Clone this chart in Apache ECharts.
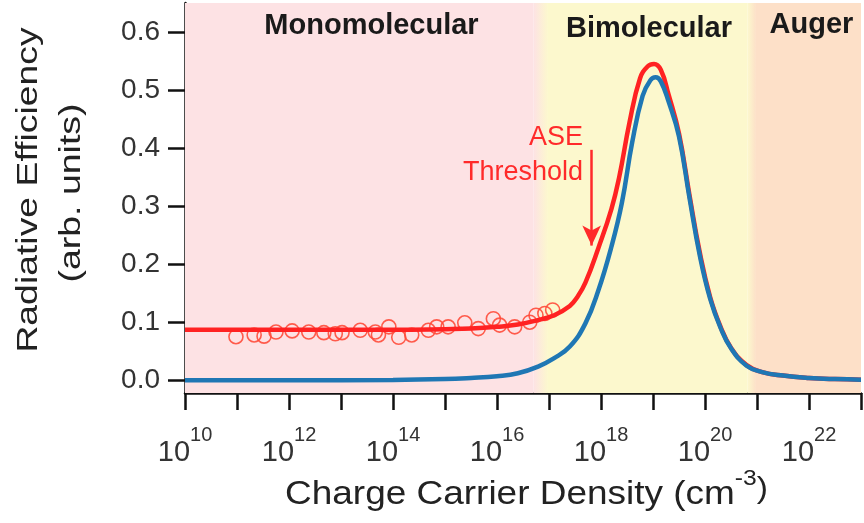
<!DOCTYPE html>
<html>
<head>
<meta charset="utf-8">
<script src="https://cdn.jsdelivr.net/npm/echarts@6/dist/echarts.min.js"></script>
<style>
html,body{margin:0;padding:0;background:#fff;}
#chart{width:864px;height:523px;}
</style>
</head>
<body>
<div id="chart"></div>
<script>
// ---- data (x given as log10 of carrier density, cm^-3) ----
const blueExp = [10, 12, 14, 15, 15.5, 16, 16.4, 16.8, 17.1, 17.4, 17.7, 17.95, 18.2, 18.4, 18.6, 18.8, 18.95, 19.05, 19.15, 19.3, 19.5, 19.7, 19.9, 20.1, 20.3, 20.5, 20.8, 21.1, 21.5, 22, 22.5, 23];
const blueVal = [0, 0, 0.0005, 0.002, 0.004, 0.007, 0.012, 0.024, 0.038, 0.058, 0.098, 0.155, 0.23, 0.305, 0.41, 0.49, 0.517, 0.522, 0.515, 0.48, 0.42, 0.315, 0.215, 0.14, 0.09, 0.055, 0.025, 0.014, 0.008, 0.004, 0.002, 0.001];

const redExp = [10, 12, 14, 15, 15.5, 16, 16.4, 16.8, 17.1, 17.4, 17.55, 17.7, 17.95, 18.2, 18.35, 18.55, 18.75, 18.9, 19.02, 19.15, 19.3, 19.5, 19.7, 19.9, 20.1, 20.3, 20.5, 20.8, 21.1, 21.5, 22, 22.5, 23];
const redVal = [0.087, 0.087, 0.087, 0.088, 0.089, 0.092, 0.096, 0.104, 0.112, 0.128, 0.144, 0.168, 0.228, 0.295, 0.35, 0.445, 0.52, 0.541, 0.545, 0.535, 0.492, 0.425, 0.32, 0.22, 0.143, 0.092, 0.056, 0.026, 0.014, 0.008, 0.004, 0.002, 0.001];

const scatterExp = [10.98, 11.33, 11.52, 11.75, 12.06, 12.38, 12.67, 12.89, 13.02, 13.37, 13.66, 13.72, 13.92, 14.11, 14.36, 14.68, 14.84, 15.06, 15.38, 15.64, 15.93, 16.05, 16.34, 16.63, 16.75, 16.92, 17.07];
const scatterVal = [0.075, 0.078, 0.076, 0.083, 0.085, 0.083, 0.082, 0.080, 0.082, 0.086, 0.083, 0.078, 0.092, 0.074, 0.078, 0.086, 0.092, 0.092, 0.099, 0.089, 0.106, 0.095, 0.092, 0.100, 0.112, 0.115, 0.121];

const yTicks = [0, 0.1, 0.2, 0.3, 0.4, 0.5, 0.6];
const regionNames = ['Monomolecular', 'Bimolecular', 'Auger'];
// region boundaries (log10 density)
const regionEdges = [10, 16.7, 16.98, 20.82, 20.98, 23];
const arrowExp = 17.82;
const arrowY = [0.397, 0.232];

// ---- build ----
const toPts = (ex, vals) => ex.map((e, i) => [Math.pow(10, e), vals[i]]);
const P = e => Math.pow(10, e);

const pink = '#fde2e4', yellow = '#fcf8cd', peach = '#fde0c8';
const grad = (a, b) => ({type: 'linear', x: 0, y: 0, x2: 1, y2: 0, colorStops: [{offset: 0, color: a}, {offset: 1, color: b}]});

const FONT = '"Liberation Sans", Arial, Helvetica, sans-serif';

const chart = echarts.init(document.getElementById('chart'));
chart.setOption({
  animation: false,
  backgroundColor: '#fff',
  grid: {left: 185, right: 0, top: 3, bottom: 130},
  xAxis: {
    type: 'log', logBase: 10, min: 1e10, max: 1e23, interval: 1, splitNumber: 13,
    axisLine: {onZero: false, lineStyle: {color: '#111', width: 2.5}},
    axisTick: {show: true, length: 17, lineStyle: {color: '#111', width: 2.5}},
    splitLine: {show: false},
    minorTick: {show: false},
    axisLabel: {
      margin: 32, showMinLabel: true, showMaxLabel: true, hideOverlap: false, interval: 0,
      formatter: v => {
        const e = Math.round(Math.log10(v));
        if (e % 2 !== 0) return '';
        return '{b|10}{s|' + e + '}';
      },
      rich: {
        b: {fontSize: 29, fontFamily: FONT, color: '#333', lineHeight: 29, verticalAlign: 'bottom'},
        s: {fontSize: 20, fontFamily: FONT, color: '#333', lineHeight: 42, verticalAlign: 'top'}
      }
    }
  },
  yAxis: {
    type: 'value', min: -0.022, max: 0.65,
    axisLine: {show: true, lineStyle: {color: '#111', width: 2.5}},
    axisTick: {show: true, length: 17, customValues: yTicks, lineStyle: {color: '#111', width: 2.5}},
    splitLine: {show: false},
    axisLabel: {
      margin: 25, customValues: yTicks,
      formatter: v => v.toFixed(1),
      fontSize: 28, fontFamily: FONT, color: '#333'
    }
  },
  series: [
    {
      type: 'line', data: [], z: 0, silent: true,
      markArea: {
        silent: true,
        data: [
          [{xAxis: P(regionEdges[0]), itemStyle: {color: pink}}, {xAxis: P(regionEdges[1])}],
          [{xAxis: P(regionEdges[1]), itemStyle: {color: grad(pink, yellow)}}, {xAxis: P(regionEdges[2])}],
          [{xAxis: P(regionEdges[2]), itemStyle: {color: yellow}}, {xAxis: P(regionEdges[3])}],
          [{xAxis: P(regionEdges[3]), itemStyle: {color: grad(yellow, peach)}}, {xAxis: P(regionEdges[4])}],
          [{xAxis: P(regionEdges[4]), itemStyle: {color: peach}}, {xAxis: P(regionEdges[5])}]
        ]
      }
    },
    {
      name: 'data', type: 'scatter', z: 2,
      data: toPts(scatterExp, scatterVal),
      symbol: 'circle', symbolSize: 14,
      itemStyle: {color: 'rgba(0,0,0,0)', borderColor: '#ff4b3a', borderWidth: 1.6, opacity: 0.9}
    },
    {
      name: 'red', type: 'line', z: 3, smooth: 0.45, showSymbol: false,
      data: toPts(redExp, redVal),
      lineStyle: {color: '#ff2222', width: 4.5},
      markLine: {
        silent: true, symbol: ['none', 'arrow'], symbolSize: [14, 20],
        label: {show: false},
        lineStyle: {color: '#ff2a2a', width: 2.5, type: 'solid'},
        data: [[{coord: [P(arrowExp), arrowY[0]]}, {coord: [P(arrowExp), arrowY[1]]}]]
      }
    },
    {
      name: 'blue', type: 'line', z: 4, smooth: 0.45, showSymbol: false,
      data: toPts(blueExp, blueVal),
      lineStyle: {color: '#1f77b4', width: 4.5}
    }
  ],
  graphic: [
    {type: 'text', z: 100, x: 371.5, y: 25.5, style: {text: regionNames[0], font: 'bold 29px ' + FONT, fill: '#1a1a1a', textAlign: 'center', textVerticalAlign: 'middle'}},
    {type: 'text', z: 100, x: 649, y: 29, style: {text: regionNames[1], font: 'bold 29px ' + FONT, fill: '#1a1a1a', textAlign: 'center', textVerticalAlign: 'middle'}},
    {type: 'text', z: 100, x: 811.5, y: 25, style: {text: regionNames[2], font: 'bold 29px ' + FONT, fill: '#1a1a1a', textAlign: 'center', textVerticalAlign: 'middle'}},
    {type: 'text', z: 100, x: 583, y: 137.5, style: {text: 'ASE', font: '27px ' + FONT, fill: '#ff2a2a', textAlign: 'right', textVerticalAlign: 'middle'}},
    {type: 'text', z: 100, x: 583, y: 173, style: {text: 'Threshold', font: '27px ' + FONT, fill: '#ff2a2a', textAlign: 'right', textVerticalAlign: 'middle'}},
    {type: 'text', z: 100, x: 28.5, y: 190, rotation: Math.PI / 2, scaleX: 1.245,
      style: {text: 'Radiative Efficiency', font: '30px ' + FONT, fill: '#222', textAlign: 'center', textVerticalAlign: 'middle'}},
    {type: 'text', z: 100, x: 71.5, y: 193, rotation: Math.PI / 2, scaleX: 1.25,
      style: {text: '(arb. units)', font: '30px ' + FONT, fill: '#222', textAlign: 'center', textVerticalAlign: 'middle'}},
    {type: 'text', z: 100, x: 526.5, y: 489.5, scaleX: 1.12,
      style: {
        text: '{a|Charge Carrier Density (cm}{s|-3}{p|)}', textAlign: 'center', textVerticalAlign: 'middle',
        rich: {
          a: {fontSize: 33, fontFamily: FONT, fill: '#222', color: '#222', lineHeight: 33, verticalAlign: 'bottom'},
          s: {fontSize: 22, fontFamily: FONT, fill: '#222', color: '#222', lineHeight: 44, verticalAlign: 'top'},
          p: {fontSize: 30, fontFamily: FONT, fill: '#222', color: '#222', lineHeight: 30, verticalAlign: 'middle'}
        }
      }}
  ]
});
</script>
</body>
</html>
